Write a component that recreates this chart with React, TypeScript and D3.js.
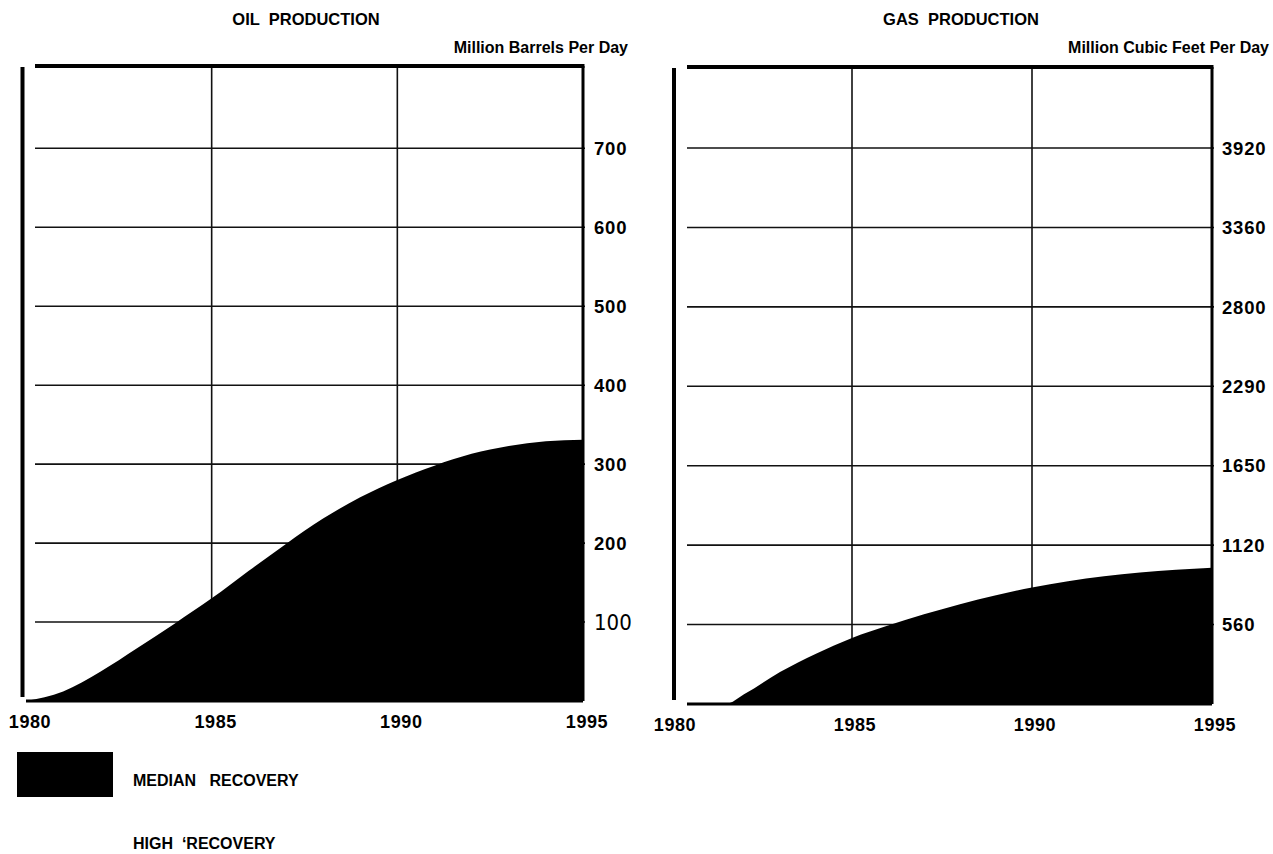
import React from "react";
import * as d3 from "d3";

// values (median recovery case)
const oilYears = [1980, 1981, 1982, 1983, 1984, 1985, 1986, 1987, 1988, 1989, 1990, 1991, 1992, 1993, 1994, 1995];
const oilMedian = [0, 12, 37, 67, 98, 130, 165, 199, 231, 258, 280, 298, 313, 323, 329, 331];

const gasYears = [1980, 1981, 1981.5, 1982, 1983, 1984, 1985, 1986, 1987, 1988, 1989, 1990, 1991, 1992, 1993, 1994, 1995];
const gasMedian = [0, 0, 0, 68, 225, 355, 465, 553, 633, 704, 767, 822, 866, 901, 927, 946, 960];

const yearTicks = [1980, 1985, 1990, 1995];
const gridYears = [1985, 1990];

const oilTicks = [100, 200, 300, 400, 500, 600, 700];
const oilTickLabels = ["100", "200", "300", "400", "500", "600", "700"];

// gridlines sit at 560 steps, the printed labels don't all agree
const gasTicks = [560, 1120, 1680, 2240, 2800, 3360, 3920];
const gasTickLabels = ["560", "1120", "1650", "2290", "2800", "3360", "3920"];

const legendLabels = ["MEDIAN   RECOVERY", "HIGH  \u2018RECOVERY"];

const FONT = "'Liberation Sans', Arial, Helvetica, sans-serif";
const NARROW = "'Liberation Sans Narrow', 'DejaVu Sans Condensed', 'Liberation Sans', sans-serif";

const Panel = ({ cfg }) => {
    const x = d3.scaleLinear().domain([1980, 1995]).range([cfg.x0, cfg.x1]);
    const y = d3.scaleLinear().domain([0, cfg.yMax]).range([cfg.bottom, cfg.top]);

    const data = cfg.years.map((yr, i) => ({ year: yr, value: cfg.values[i] }));

    const area = d3
        .area()
        .curve(d3.curveMonotoneX)
        .x(d => x(d.year))
        .y0(() => y(0))
        .y1(d => y(d.value));

    const horizontalTicks = cfg.ticks.map((t, i) => {
        const narrow = cfg.labels[i] === cfg.narrowLabel;
        return (
            <g key={t}>
                <line
                    x1={cfg.gridStart}
                    x2={x(1995) + 2}
                    y1={y(t)}
                    y2={y(t)}
                    stroke="#111"
                    strokeWidth={1.6}
                />
                <text
                    x={x(1995) + cfg.labelGap}
                    y={y(t)}
                    dy="0.36em"
                    fontFamily={narrow ? NARROW : FONT}
                    fontWeight={narrow ? "normal" : "bold"}
                    fontSize={narrow ? 22 : 18.5}
                    letterSpacing={narrow ? 0 : 0.8}
                    fill="#000"
                >
                    {cfg.labels[i]}
                </text>
            </g>
        );
    });

    const verticalTicks = gridYears.map(yr => (
        <line
            key={yr}
            x1={x(yr)}
            x2={x(yr)}
            y1={cfg.top}
            y2={y(0)}
            stroke="#111"
            strokeWidth={1.6}
        />
    ));

    return (
        <g>
            <text
                x={cfg.titleX}
                y={25}
                textAnchor="middle"
                fontFamily={FONT}
                fontWeight="bold"
                fontSize={16.5}
                style={{ whiteSpace: "pre" }}
            >
                {cfg.title}
            </text>
            <text
                x={cfg.unitX}
                y={53}
                textAnchor="end"
                fontFamily={FONT}
                fontWeight="bold"
                fontSize={16}
            >
                {cfg.unit}
            </text>

            {horizontalTicks}
            {verticalTicks}

            {/* frame: thick top rule, left and right borders */}
            <line x1={cfg.gridStart} x2={x(1995) + 1.5} y1={cfg.top - 1} y2={cfg.top - 1} stroke="#000" strokeWidth={4} />
            <line x1={cfg.frameLeft} x2={cfg.frameLeft} y1={cfg.top} y2={y(0) - 4} stroke="#000" strokeWidth={4} />
            <line x1={x(1995)} x2={x(1995)} y1={cfg.top - 1} y2={y(0)} stroke="#000" strokeWidth={3} />

            <path d={area(data)} fill="#000" />
            <line x1={cfg.baseStart} x2={x(1995)} y1={y(0)} y2={y(0)} stroke="#000" strokeWidth={3} />

            {yearTicks.map(yr => (
                <text
                    key={yr}
                    x={x(yr) + cfg.yearShift}
                    y={y(0) + 27}
                    textAnchor="middle"
                    fontFamily={FONT}
                    fontWeight="bold"
                    fontSize={18}
                    letterSpacing={0.6}
                >
                    {yr}
                </text>
            ))}
        </g>
    );
};

const oilPanel = {
    title: "OIL  PRODUCTION",
    unit: "Million Barrels Per Day",
    titleX: 306,
    unitX: 628,
    years: oilYears,
    values: oilMedian,
    ticks: oilTicks,
    labels: oilTickLabels,
    narrowLabel: "100",
    yMax: 803,
    x0: 26,
    x1: 583,
    top: 67,
    bottom: 701,
    frameLeft: 22.5,
    gridStart: 35,
    baseStart: 26,
    labelGap: 11,
    yearShift: 4
};

const gasPanel = {
    title: "GAS  PRODUCTION",
    unit: "Million Cubic Feet Per Day",
    titleX: 961,
    unitX: 1269,
    years: gasYears,
    values: gasMedian,
    ticks: gasTicks,
    labels: gasTickLabels,
    narrowLabel: null,
    yMax: 4484,
    x0: 672,
    x1: 1212,
    top: 68,
    bottom: 704,
    frameLeft: 674,
    gridStart: 687,
    baseStart: 687,
    labelGap: 10,
    yearShift: 3
};

const App = () => {
    return (
        <svg
            width={1273}
            height={854}
            style={{ position: "absolute", left: 0, top: 0, background: "#fff" }}
        >
            <Panel cfg={oilPanel} />
            <Panel cfg={gasPanel} />

            {/* legend */}
            <rect x={17} y={752} width={96} height={45} fill="#000" />
            {legendLabels.map((label, i) => (
                <text
                    key={label}
                    x={133}
                    y={786 + i * 63}
                    fontFamily={FONT}
                    fontWeight="bold"
                    fontSize={16}
                    style={{ whiteSpace: "pre" }}
                >
                    {label}
                </text>
            ))}
        </svg>
    );
};

export default App;
